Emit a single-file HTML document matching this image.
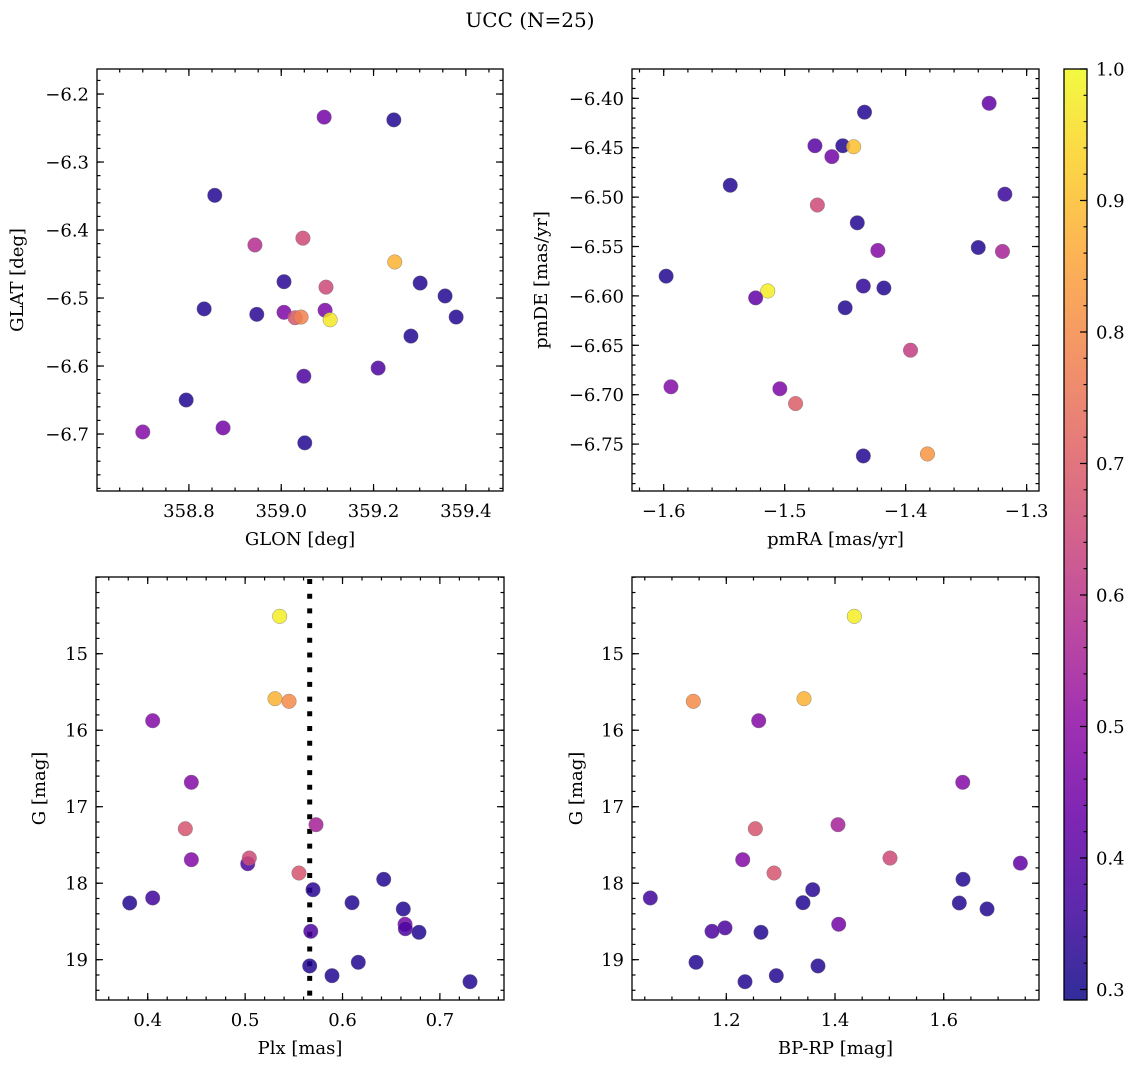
<!DOCTYPE html>
<html><head><meta charset="utf-8">
<style>
html,body{margin:0;padding:0;background:#fff;}
svg{display:block;font-family:"DejaVu Serif","Liberation Serif",serif;}
</style></head>
<body>
<svg id="fig" width="1136" height="1068" viewBox="0 0 1136 1068" xmlns="http://www.w3.org/2000/svg">
<text x="530" y="27" font-size="20" text-anchor="middle">UCC (N=25)</text>
</svg>
<script>
// ---- data ----
const glon = [359.093,359.244,358.856,358.943,359.047,359.246,359.006,359.097,359.301,359.355,358.833,358.947,359.006,359.095,359.030,359.043,359.106,359.379,359.281,359.210,359.049,358.794,358.700,358.874,359.051];
const glat = [-6.234,-6.238,-6.349,-6.422,-6.412,-6.447,-6.476,-6.484,-6.478,-6.497,-6.516,-6.524,-6.521,-6.518,-6.529,-6.528,-6.532,-6.528,-6.556,-6.603,-6.615,-6.650,-6.697,-6.691,-6.713];
const cTL = [0.45,0.32,0.32,0.58,0.65,0.88,0.33,0.65,0.32,0.32,0.32,0.33,0.47,0.47,0.68,0.78,0.97,0.32,0.32,0.38,0.38,0.32,0.48,0.45,0.32];

const pmra = [-1.331,-1.434,-1.475,-1.452,-1.443,-1.461,-1.545,-1.318,-1.473,-1.440,-1.423,-1.340,-1.320,-1.598,-1.435,-1.418,-1.514,-1.524,-1.450,-1.396,-1.594,-1.504,-1.491,-1.435,-1.382];
const pmde = [-6.405,-6.414,-6.448,-6.448,-6.449,-6.459,-6.488,-6.497,-6.508,-6.526,-6.554,-6.551,-6.555,-6.580,-6.590,-6.592,-6.595,-6.602,-6.612,-6.655,-6.692,-6.694,-6.709,-6.762,-6.760];
const cTR = [0.42,0.32,0.40,0.32,0.90,0.45,0.32,0.35,0.65,0.32,0.48,0.32,0.55,0.32,0.34,0.32,0.98,0.42,0.32,0.62,0.48,0.47,0.70,0.32,0.82];

const plx = [0.5355,0.5307,0.5451,0.4051,0.4448,0.4386,0.5728,0.4448,0.5027,0.5043,0.5553,0.6423,0.5697,0.3815,0.4051,0.6098,0.6624,0.6642,0.6645,0.6785,0.5674,0.5663,0.6162,0.5892,0.7309];
const gBL = [14.511,15.588,15.622,15.876,16.681,17.288,17.235,17.693,17.745,17.671,17.867,17.949,18.085,18.259,18.193,18.255,18.337,18.537,18.595,18.642,18.629,19.082,19.034,19.209,19.288];
const cBL = [0.98,0.88,0.80,0.48,0.48,0.68,0.55,0.48,0.38,0.65,0.68,0.32,0.33,0.32,0.36,0.32,0.32,0.45,0.38,0.32,0.38,0.32,0.32,0.32,0.32];
const plxLine = [0.5663];

const bprp = [1.4355,1.1393,1.343,1.2596,1.635,1.2534,1.4055,1.2302,1.5012,1.741,1.2878,1.6355,1.359,1.0602,1.3411,1.6287,1.6797,1.4068,1.1976,1.1737,1.2638,1.1443,1.3687,1.292,1.2344];
const gBR = [14.511,15.622,15.588,15.876,16.681,17.288,17.235,17.693,17.671,17.738,17.867,17.949,18.085,18.193,18.255,18.259,18.337,18.537,18.584,18.629,18.642,19.034,19.082,19.209,19.288];
const cBR = [0.98,0.80,0.88,0.48,0.48,0.68,0.55,0.48,0.65,0.42,0.68,0.32,0.33,0.36,0.32,0.32,0.32,0.45,0.38,0.38,0.32,0.32,0.32,0.32,0.32];

const cbarTicks = ["0.3","0.4","0.5","0.6","0.7","0.8","0.9","1.0"];

// ---- rendering ----
const NS = "http://www.w3.org/2000/svg";
const svg = document.getElementById('fig');
function mk(tag, attrs, parent){const e=document.createElementNS(NS,tag);for(const k in attrs)e.setAttribute(k,attrs[k]);(parent||svg).appendChild(e);return e;}

const plasma=[[13,8,135],[65,4,157],[106,0,168],[143,13,164],[177,42,144],[204,71,120],[225,100,98],[242,132,75],[252,166,54],[252,206,37],[240,249,33]];
const CMIN=0.292, CMAX=1.0;
function cmap(v){let t=(v-CMIN)/(CMAX-CMIN);t=Math.max(0,Math.min(1,t))*10;const i=Math.min(9,Math.floor(t));const f=t-i;const a=plasma[i],b=plasma[i+1];
return `rgb(${Math.round(a[0]+(b[0]-a[0])*f)},${Math.round(a[1]+(b[1]-a[1])*f)},${Math.round(a[2]+(b[2]-a[2])*f)})`;}
function fmt(v,d){const s=v.toFixed(d);return s.replace('-','\u2212');}
const FS=18;

function panel(cfg){
  const g=mk('g',{});
  
  
  const {L,T,R,B,x0,x1,y0,y1}=cfg;
  const sx=v=>L+(v-x0)/(x1-x0)*(R-L);
  const sy=v=>T+(v-y0)/(y1-y0)*(B-T);
  const tg=mk('g',{stroke:'#000','stroke-width':1.2},g);
  const eps=1e-9;
  function ticks(a,b,step){const out=[];const s=Math.ceil(Math.min(a,b)/step-eps);const e=Math.floor(Math.max(a,b)/step+eps);for(let k=s;k<=e;k++)out.push(k*step);return out;}
  for(const v of ticks(x0,x1,cfg.xminor)){const x=sx(v);mk('line',{x1:x,x2:x,y1:B,y2:B-3.5},tg);mk('line',{x1:x,x2:x,y1:T,y2:T+3.5},tg);}
  for(const v of ticks(y0,y1,cfg.yminor)){const y=sy(v);mk('line',{x1:L,x2:L+3.5,y1:y,y2:y},tg);mk('line',{x1:R,x2:R-3.5,y1:y,y2:y},tg);}
  for(const v of cfg.xmajor){const x=sx(v);mk('line',{x1:x,x2:x,y1:B,y2:B-7},tg);mk('line',{x1:x,x2:x,y1:T,y2:T+7},tg);
    const t=mk('text',{x:x,y:B+26,'font-size':FS,'text-anchor':'middle'},g);t.textContent=fmt(v,cfg.xd);
    
    }
  for(const v of cfg.ymajor){const y=sy(v);mk('line',{x1:L,x2:L+7,y1:y,y2:y},tg);mk('line',{x1:R,x2:R-7,y1:y,y2:y},tg);
    const t=mk('text',{x:L-8,y:y+6.5,'font-size':FS,'text-anchor':'end'},g);t.textContent=fmt(v,cfg.yd);
    
    }
  if(cfg.vline){for(const v of cfg.vline){const x=sx(v);const ln=mk('line',{x1:x,x2:x,y1:T+2,y2:B,stroke:'#000','stroke-width':5,'stroke-dasharray':'5 9.7'},g);
    
    }}
  for(let i=0;i<cfg.xs.length;i++){
    const c=mk('circle',{cx:sx(cfg.xs[i]),cy:sy(cfg.ys[i]),r:7.3,fill:cmap(cfg.cs[i]),'fill-opacity':0.85,stroke:'#777','stroke-width':0.4},g);
    
    
  }
  const fr=mk('rect',{x:L,y:T,width:R-L,height:B-T,fill:'none',stroke:'#000','stroke-width':1.3},g);
  
  
  const xl=mk('text',{x:(L+R)/2,y:B+54,'font-size':FS,'text-anchor':'middle'},g);xl.textContent=cfg.xlabel;
  
  
  const yl=mk('text',{x:0,y:0,'font-size':FS,'text-anchor':'middle',transform:`translate(${cfg.ylx},${(T+B)/2}) rotate(-90)`},g);yl.textContent=cfg.ylabel;
  
  
}

panel({name:'glon-glat-panel',L:97,T:69,R:503,B:491,x0:358.6008,x1:359.4805,y0:-6.1632,y1:-6.7838,
  xminor:0.05,yminor:0.02,xmajor:[358.8,359.0,359.2,359.4],ymajor:[-6.2,-6.3,-6.4,-6.5,-6.6,-6.7],xd:1,yd:1,
  xs:glon,ys:glat,cs:cTL,xlabel:'GLON [deg]',ylabel:'GLAT [deg]',ylx:23});
panel({name:'pm-panel',L:632,T:69,R:1039,B:491,x0:-1.6262,x1:-1.2898,y0:-6.3703,y1:-6.7975,
  xminor:0.02,yminor:0.01,xmajor:[-1.6,-1.5,-1.4,-1.3],ymajor:[-6.40,-6.45,-6.50,-6.55,-6.60,-6.65,-6.70,-6.75],xd:1,yd:2,
  xs:pmra,ys:pmde,cs:cTR,xlabel:'pmRA [mas/yr]',ylabel:'pmDE [mas/yr]',ylx:547});
panel({name:'plx-g-panel',L:96,T:577,R:504,B:1000,x0:0.3469,x1:0.7658,y0:13.997,y1:19.527,
  xminor:0.02,yminor:0.2,xmajor:[0.4,0.5,0.6,0.7],ymajor:[15,16,17,18,19],xd:1,yd:0,
  xs:plx,ys:gBL,cs:cBL,vline:plxLine,xlabel:'Plx [mas]',ylabel:'G [mag]',ylx:45});
panel({name:'cmd-panel',L:632,T:577,R:1039,B:1000,x0:1.0265,x1:1.7753,y0:13.997,y1:19.527,
  xminor:0.05,yminor:0.2,xmajor:[1.2,1.4,1.6],ymajor:[15,16,17,18,19],xd:1,yd:0,
  xs:bprp,ys:gBR,cs:cBR,xlabel:'BP-RP [mag]',ylabel:'G [mag]',ylx:582});

// colorbar
(function(){
  const L=1064,R=1087,T=69,B=1000;
  const g=mk('g',{});
  
  
  const defs=mk('defs',{},g);
  const lg=mk('linearGradient',{id:'cbg',x1:0,y1:1,x2:0,y2:0},defs);
  for(let k=0;k<=10;k++){const p=plasma[k];mk('stop',{offset:k/10,'stop-color':`rgb(${p[0]},${p[1]},${p[2]})`},lg);}
  mk('rect',{x:L,y:T,width:R-L,height:B-T,fill:'url(#cbg)','fill-opacity':0.85},g);
  const sy=v=>B-(v-CMIN)/(CMAX-CMIN)*(B-T);
  for(let v=0.30;v<=1.0001;v+=0.02){const y=sy(v);mk('line',{x1:R,x2:R-3.5,y1:y,y2:y,stroke:'#000','stroke-width':1.1},g);}
  for(const s of cbarTicks){const y=sy(parseFloat(s));mk('line',{x1:R,x2:R-7,y1:y,y2:y,stroke:'#000','stroke-width':1.2},g);
    const t=mk('text',{x:R+9,y:y+6.5,'font-size':FS},g);t.textContent=s;
    
    }
  mk('rect',{x:L,y:T,width:R-L,height:B-T,fill:'none',stroke:'#000','stroke-width':1.3},g);
})();
</script>
</body></html>
